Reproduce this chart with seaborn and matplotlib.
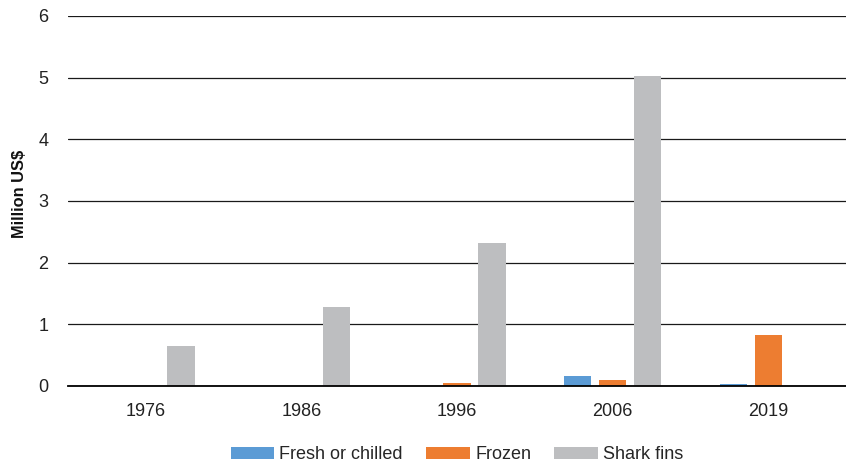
import matplotlib
matplotlib.use("Agg")
import matplotlib.pyplot as plt
import seaborn as sns
import pandas as pd

years = ["1976", "1986", "1996", "2006", "2019"]
fresh = [0.0, 0.0, 0.0, 0.16, 0.03]
frozen = [0.0, 0.0, 0.05, 0.10, 0.82]
fins = [0.65, 1.28, 2.32, 5.03, 0.0]
series = ["Fresh or chilled", "Frozen", "Shark fins"]
colors = ["#5B9BD5", "#ED7D31", "#BDBEC0"]

rows = []
for i, y in enumerate(years):
    for s, vals in zip(series, [fresh, frozen, fins]):
        rows.append({"Year": y, "Series": s, "Value": vals[i]})
df = pd.DataFrame(rows)

sns.set_theme(style="white")
plt.rcParams["font.family"] = ["Liberation Sans", "DejaVu Sans"]

fig = plt.figure(figsize=(8.46, 4.66), dpi=100)
ax = fig.add_axes([0.0804, 0.1717, 0.9196, 0.794])
sns.barplot(data=df, x="Year", y="Value", hue="Series", palette=colors,
            width=0.675, gap=0.218, ax=ax, saturation=1, errorbar=None,
            legend=True, linewidth=0)

ax.set_ylim(0, 6)
ax.set_xlim(-0.5, 4.5)
ax.set_yticks(range(7))
ax.yaxis.grid(True, color="#1a1a1a", linewidth=0.9)
ax.set_axisbelow(True)
for side in ["top", "right", "left"]:
    ax.spines[side].set_visible(False)
ax.spines["bottom"].set_color("black")
ax.spines["bottom"].set_linewidth(1.3)
ax.spines["bottom"].set_zorder(5)
ax.tick_params(axis="both", length=0, labelsize=13, colors="#222222")
ax.tick_params(axis="y", pad=14)
ax.tick_params(axis="x", pad=12)
ax.set_xlabel("")
ax.set_ylabel("")
fig.text(19.5 / 846, 1 - 194 / 466, "Million US$", rotation=90,
         ha="center", va="center", fontsize=11.8, fontweight="bold", color="#111111")

h, l = ax.get_legend_handles_labels()
ax.legend(h, l, loc="center", bbox_to_anchor=(0.5, -0.186), ncol=3,
          frameon=False, fontsize=13, handlelength=2.4, handleheight=0.67,
          columnspacing=1.3, handletextpad=0.3)

fig.savefig("out.png", dpi=100)
